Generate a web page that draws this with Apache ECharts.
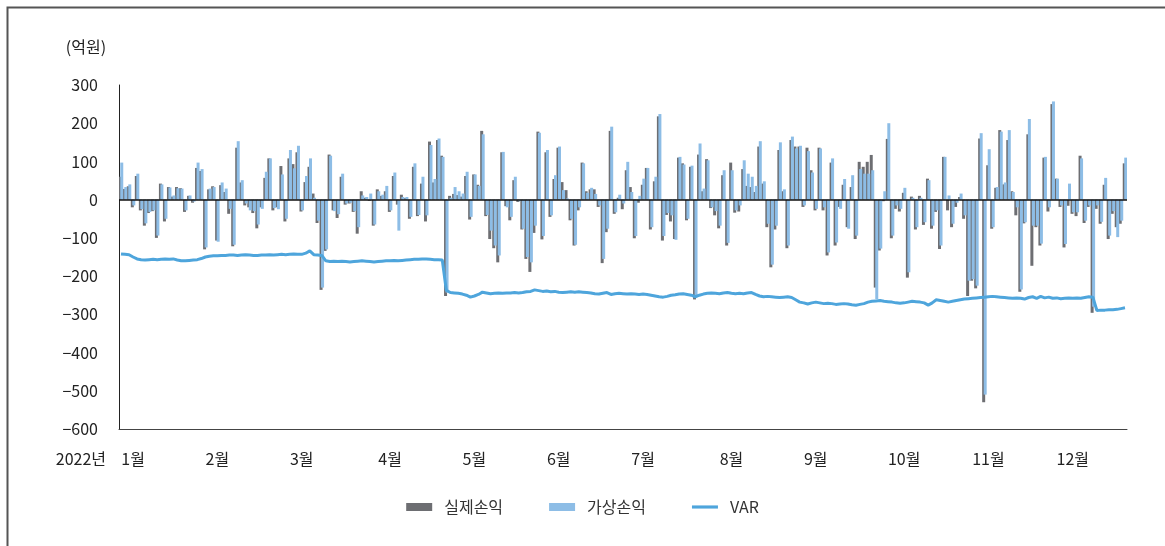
<!DOCTYPE html>
<html>
<head>
<meta charset="utf-8">
<script src="https://cdn.jsdelivr.net/npm/echarts@6/dist/echarts.min.js"></script>
<style>
  html, body { margin: 0; padding: 0; background: #fff; }
  #chart { width: 1165px; height: 546px; }
</style>
</head>
<body>
<div id="chart"></div>
<script>
// 2022 daily P&L (억원): actual vs. hypothetical, with daily VaR
const actualPL = [
  60, 28, 35, -20, 62, -28, -68, -35, -30, -100,
  42, -57, 33, 8, 33, 30, -32, 10, -8, 83,
  75, -130, 27, 35, -107, 38,
  20, -37, -122, 136, 45, -15, -20, -35, -75, -20,
  57, 108, -28, -20, 88, -57, 108, 93, 124, -31,
  46, 86, 16, -61, -236, -134,
  118, -28, -48, 60, -13, -10, -32, -89, 22, 5,
  -3, -68, 27, 10, 22, -32, 62, -13, 13, 4,
  -50, 86, -43, 42,
  -57, 152, 45, 156, 115, -252, 10, 15, 12, 8,
  62, -52, 66, 39, 180, -43, -103, -127, -164, 124,
  -17, -54, 51, -6, -78, -155,
  -189, -87, 178, -104, 124, -45, 54, 136, 46, 25,
  -54, -120, -28, 97, 22, 27, 27, -19, -166, -85,
  180, -37, 5, -25,
  77, 33, -101, -8, 39, 83, -78, 48, 218, -107,
  -40, -57, -103, 110, 95, -54, 86, -261, 118, 22,
  106, -22, -41, -75, 64,
  -120, 97, -34, -31, 80, 36, 33, 20, 139, 42,
  -72, -177, -78, 130, 22, -127, 156, 139, 139, -19,
  136, 77, -28, 136,
  -28, -146, 97, -120, -19, 39, -72, 33, -103, 99,
  86, 99, 117, -230, -133, -4, 159, -101, -24, -31,
  18, -204, 8, -78, 10, -66,
  55, -76, -32, -129, 112, -28, -72, -19, 7, -50,
  -252, -212, -232, 160, -530, 90, -76, 31, 182, 40, 156,
  22, -41, -241,
  -62, 171, -173, -72, -120, 110, -31, 250, 55, -19,
  -125, -16, -37, -43, 115, -61, -19, -296, -24, -63,
  39, -103, -37, -72, -63, 95
];

const hypotheticalPL = [
  97, 33, 40, -15, 68, -25, -62, -32, -28, -94,
  40, -50, 32, 11, 30, 29, -28, 11, -5, 97,
  80, -125, 29, 33, -110, 45,
  29, -24, -118, 153, 51, -10, -28, -30, -65, -24,
  73, 108, -22, -25, 66, -50, 130, 82, 141, -28,
  62, 108, 5, -55, -230, -130,
  115, -30, -38, 68, -10, -8, -30, -72, 11, 7,
  16, -65, 22, 13, 36, -28, 71, -81, 7, 7,
  -45, 95, -40, 60,
  -41, 143, 54, 160, 112, -243, 5, 33, 22, 16,
  73, -45, 66, 36, 171, -40, -81, -120, -146, 125,
  -20, -45, 60, -4, -76, -150,
  -164, -68, 175, -95, 130, -41, 64, 139, 25, 3,
  -50, -118, -20, 95, 18, 31, 15, -15, -155, -76,
  191, -33, 13, -10,
  99, 20, -95, 10, 55, 83, -72, 60, 224, -95,
  -35, -41, -105, 112, 92, -50, 89, -255, 147, 29,
  103, -20, -30, -68, 77,
  -113, 77, -28, -15, 103, 68, 60, 36, 153, 48,
  -63, -170, -68, 150, 27, -120, 165, 134, 141, -15,
  127, 71, -24, 134,
  -20, -138, 108, -112, -24, 54, -76, 64, -94, 80,
  68, 68, 77, -260, -128, 22, 200, -94, -15, -24,
  31, -190, 5, -72, 5, -59,
  51, -68, -28, -120, 112, 11, -63, -8, 16, -41,
  -212, -208, -225, 174, -510, 132, -72, 33, 178, 45, 182,
  20, -20, -235,
  -59, 211, -68, -68, -115, 112, -20, 257, 55, -15,
  -116, 42, -33, -33, 108, -55, -15, -280, -15, -58,
  57, -94, -30, -98, -55, 110
];

const varValues = [
  -142, -143, -144, -150, -155, -157, -158, -157, -156, -157,
  -156, -155, -156, -155, -158, -160, -160, -159, -158, -157,
  -154, -150, -148, -147, -147, -146,
  -146, -145, -145, -146, -145, -144, -145, -146, -146, -145,
  -145, -144, -145, -144, -143, -144, -143, -142, -143, -143,
  -140, -134, -144, -145, -146, -160,
  -162, -161, -162, -161, -162, -163, -162, -161, -160, -161,
  -162, -163, -162, -161, -160, -160, -159, -160, -159, -158,
  -157, -156, -156, -155,
  -155, -156, -157, -157, -158, -237, -243, -244, -245, -247,
  -250, -255, -252, -248, -242, -244, -246, -245, -244, -245,
  -244, -244, -243, -244, -243, -241,
  -240, -236, -238, -240, -239, -241, -240, -242, -243, -242,
  -241, -242, -241, -242, -243, -244, -246, -247, -245, -243,
  -248, -246, -245, -246,
  -247, -246, -247, -248, -247, -248, -250, -252, -254, -255,
  -253, -250, -249, -247, -246, -248, -250, -254, -250, -247,
  -245, -244, -245, -246, -244,
  -243, -245, -246, -245, -246, -244, -243, -248, -252, -254,
  -253, -254, -255, -256, -255, -254, -256, -262, -268, -270,
  -273, -270, -268, -270,
  -272, -271, -272, -274, -273, -272, -273, -275, -276, -274,
  -272, -268, -266, -265, -264, -266, -267, -268, -270, -271,
  -270, -268, -266, -267, -268, -270,
  -276, -270, -262, -264, -266, -268, -266, -264, -262, -260,
  -259, -258, -257, -256, -255, -254, -253, -254, -255, -256, -257,
  -258, -257, -258,
  -260, -256, -254, -258, -253, -257, -255, -258, -257, -259,
  -258, -257, -258, -257, -258, -256, -254, -255, -290, -289,
  -289, -288, -288, -287, -285, -283
];

// month labels and the trading-day index each one sits on
const monthLabels = ['1월', '2월', '3월', '4월', '5월', '6월', '7월', '8월', '9월', '10월', '11월', '12월'];
const monthIdx = [3, 24, 45, 67, 88, 109, 130, 152, 173, 195, 216, 237];

const yTicks = { min: -600, max: 300, step: 100 };

const days = actualPL.map((_, i) => String(i + 1));

const FONT = '"Noto Sans CJK KR", "Noto Sans", sans-serif';
const DARK = '#6d6e72';
const LIGHT = '#8dbde6';
const VARC = '#4ea5dc';

const chart = echarts.init(document.getElementById('chart'), null, { renderer: 'canvas' });

chart.setOption({
  backgroundColor: '#ffffff',
  animation: false,
  textStyle: { fontFamily: FONT },
  graphic: [{
    type: 'rect',
    left: 5, top: 5,
    shape: { width: 1170, height: 560 },
    style: { fill: 'none', stroke: '#555', lineWidth: 2 },
    silent: true
  }],
  grid: { left: 119, right: 38, top: 85, bottom: 117 },
  legend: {
    bottom: 26,
    left: 'center',
    itemGap: 46,
    itemWidth: 26,
    itemHeight: 8,
    textStyle: { fontFamily: FONT, fontSize: 16, color: '#333', padding: [0, 0, 0, 7] },
    data: [
      { name: '실제손익', icon: 'rect' },
      { name: '가상손익', icon: 'rect' },
      { name: 'VAR', icon: 'path://M0,0H28V3.4H0Z' }
    ]
  },
  xAxis: {
    type: 'category',
    data: days,
    name: '2022년',
    nameLocation: 'start',
    nameGap: 13,
    nameTextStyle: { fontFamily: FONT, fontSize: 16, color: '#222', verticalAlign: 'top', padding: [22, 0, 0, 0] },
    axisLine: { onZero: false, lineStyle: { color: '#444', width: 1 } },
    axisTick: { show: false },
    axisLabel: {
      interval: (i) => monthIdx.includes(i),
      formatter: (v, i) => monthLabels[monthIdx.indexOf(i)] || '',
      margin: 22,
      fontFamily: FONT, fontSize: 16, color: '#222'
    },
    splitLine: { show: false }
  },
  yAxis: {
    type: 'value',
    min: yTicks.min, max: yTicks.max, interval: yTicks.step,
    name: '(억원)',
    nameLocation: 'end',
    nameGap: 30,
    nameTextStyle: { fontFamily: FONT, fontSize: 16, color: '#222', align: 'center', padding: [0, 66, 0, 0] },
    axisLine: { show: true, lineStyle: { color: '#222', width: 1 } },
    axisTick: { show: false },
    splitLine: { show: false },
    axisLabel: {
      margin: 21,
      fontFamily: FONT, fontSize: 16, color: '#222',
      formatter: (v) => String(v).replace('-', '\u2212')
    }
  },
  series: [
    {
      name: '실제손익',
      type: 'bar',
      data: actualPL,
      barWidth: 3,
      barGap: '-50%',
      itemStyle: { color: DARK },
      markLine: {
        silent: true,
        symbol: 'none',
        label: { show: false },
        lineStyle: { color: '#111', width: 1.5, type: 'solid' },
        data: [{ yAxis: 0 }]
      }
    },
    {
      name: '가상손익',
      type: 'bar',
      data: hypotheticalPL,
      barWidth: 3,
      itemStyle: { color: LIGHT }
    },
    {
      name: 'VAR',
      type: 'line',
      data: varValues,
      symbol: 'none',
      lineStyle: { color: VARC, width: 3 },
      itemStyle: { color: VARC },
      z: 5
    }
  ]
});
</script>
</body>
</html>
